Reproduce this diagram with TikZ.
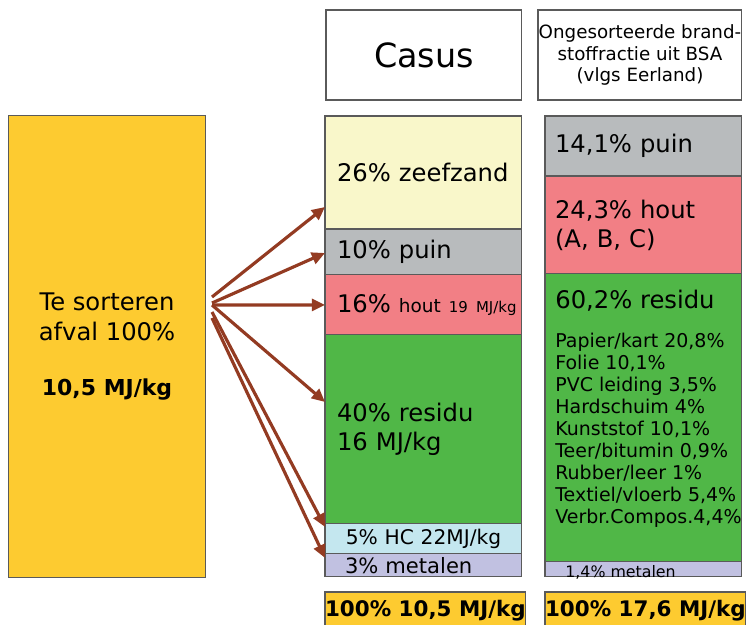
\documentclass[tikz,border=0pt]{standalone}
\usepackage{fontspec}
\setmainfont{DejaVu Sans}
\usetikzlibrary{arrows.meta,calc,positioning}
\definecolor{SortYellow}{HTML}{FDCB30}
\definecolor{SandFill}{HTML}{F9F7CA}
\definecolor{PuinGray}{HTML}{B8BBBD}
\definecolor{HoutPink}{HTML}{F27F85}
\definecolor{ResiduGreen}{HTML}{50B747}
\definecolor{HcBlue}{HTML}{C4E7EF}
\definecolor{MetaalLila}{HTML}{C1C1E1}
\definecolor{ArrowBrown}{HTML}{933B22}
\definecolor{Edge}{HTML}{5A5A5A}

\begin{document}
\begin{tikzpicture}[
    x=0.02cm, y=-0.02cm,
    node distance=0pt,
    flow/.style={-{Triangle[length=7.5pt,width=6.8pt]}, line width=1.8pt, draw=ArrowBrown},
    seg/.style={
        draw=Edge, line width=0.6pt, outer sep=0pt,
        minimum width=3.94cm, text width=3.46cm, inner xsep=0.24cm,
        inner ysep=0pt, align=left
    },
    rseg/.style={seg, text width=3.54cm, inner xsep=0.2cm},
    head/.style={draw=Edge, line width=0.6pt, outer sep=0pt, align=center,
        minimum height=1.8cm},
    lbl/.style={font=\fontsize{13.8}{16.4}\selectfont},
    sublbl/.style={font=\fontsize{10.8}{12.5}\selectfont},
    total/.style={draw=Edge, line width=0.6pt, outer sep=0pt, fill=SortYellow,
        minimum width=3.94cm, minimum height=0.76cm, inner xsep=0pt,
        font=\fontsize{12.2}{14}\selectfont\bfseries}
]
\useasboundingbox (0,0) rectangle (750,625);

% Input waste
\node[draw=Edge, line width=0.6pt, fill=SortYellow, anchor=north west,
      minimum width=3.94cm, minimum height=9.24cm, align=center,
      font=\fontsize{13.8}{17}\selectfont] (afval) at (8,115)
    {Te sorteren\\afval 100\%\\[14pt]
     {\fontsize{12.5}{15}\selectfont\bfseries 10,5 MJ/kg}};

% Column headers
\node[head, minimum width=3.92cm, font=\fontsize{19}{22}\selectfont,
      anchor=north west] (casus) at (326,10) {Casus};
\node[head, minimum width=4.08cm, font=\fontsize{10.4}{12.5}\selectfont,
      inner xsep=0pt, anchor=north west] (bsa) at (538,10)
    {Ongesorteerde brand-\\stoffractie uit BSA\\(vlgs Eerland)};

% Casus column
\node[seg, lbl, fill=SandFill, minimum height=2.26cm, anchor=north west]
    (zeef) at (325,116) {26\% zeefzand};
\node[seg, lbl, fill=PuinGray, minimum height=0.92cm, below=of zeef]
    (puin) {10\% puin};
\node[seg, lbl, fill=HoutPink, minimum height=1.2cm, below=of puin]
    (hout) {\mbox{16\% {\fontsize{10.5}{12}\selectfont hout
            {\fontsize{8.5}{10}\selectfont 19~MJ/kg}}}};
\node[seg, lbl, fill=ResiduGreen, minimum height=3.78cm, below=of hout]
    (residu) {40\% residu\\16 MJ/kg};
\node[seg, fill=HcBlue, minimum height=0.6cm, align=center, below=of residu,
      font=\fontsize{11.5}{13}\selectfont] (hc) {5\% HC 22MJ/kg};
\node[seg, fill=MetaalLila, minimum height=0.46cm, text width=3.14cm,
      inner xsep=0.4cm, below=of hc, font=\fontsize{12}{13}\selectfont]
    (metaal) {3\% metalen};

% BSA column
\node[rseg, lbl, fill=PuinGray, minimum height=1.2cm, anchor=north west]
    (bpuin) at (545,116) {14,1\% puin};
\node[rseg, lbl, fill=HoutPink, minimum height=1.96cm, below=of bpuin]
    (bhout) {24,3\% hout\\(A, B, C)};
\node[rseg, fill=ResiduGreen, minimum height=5.76cm, below=of bhout]
    (bresidu) {};
\node[rseg, fill=MetaalLila, minimum height=0.3cm, below=of bresidu]
    (bmetaal) {};
\node[anchor=north west, align=left, inner sep=0pt, lbl] (bres) at (555,290)
    {60,2\% residu};
\node[below=12pt of bres.south west, anchor=north west, align=left,
      inner sep=0pt, sublbl] (blist)
    {Papier/kart 20,8\%\\Folie 10,1\%\\PVC leiding 3,5\%\\Hardschuim 4\%\\
     Kunststof 10,1\%\\Teer/bitumin 0,9\%\\Rubber/leer 1\%\\
     Textiel/vloerb 5,4\%\\Verbr.Compos.4,4\%};
\node[anchor=west, inner sep=0pt, font=\fontsize{9}{10}\selectfont]
    (bmetlbl) at (565,572) {1,4\% metalen};

% Totals
\node[total, anchor=north west] (casustot) at (325,592) {100\% 10,5 MJ/kg};
\node[total, anchor=north west] (bsatot) at (545,592) {100\% 17,6 MJ/kg};

% Sorting arrows
\coordinate (src) at (212,305);
\draw[flow] ($(src)+(0,-8)$) -- ($(zeef.south west)+(0,-22)$);
\draw[flow] ($(src)+(0,-2)$) -- ($(puin.west)+(0,1)$);
\draw[flow] (src) -- (hout.west);
\draw[flow] (src) -- ($(residu.north west)+(0,67)$);
\draw[flow] ($(src)+(0,7)$) -- ($(hc.north west)+(0,3)$);
\draw[flow] ($(src)+(0,13)$) -- ($(metaal.north west)+(0,4)$);

\end{tikzpicture}
\end{document}
